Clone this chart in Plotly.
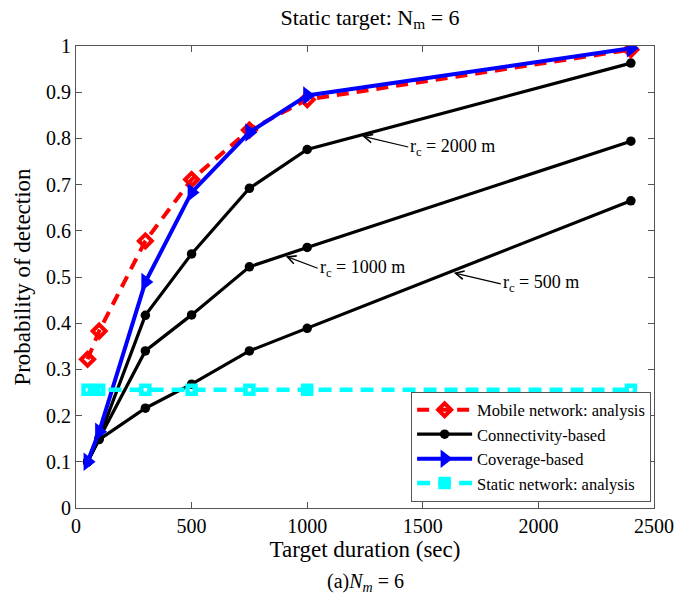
import plotly.graph_objects as go

# Target duration (sec)
duration = [50, 100, 300, 500, 750, 1000, 2400]

mobile_analysis = [0.322, 0.383, 0.578, 0.711, 0.818, 0.884, 0.992]
coverage_based = [0.100, 0.165, 0.489, 0.683, 0.813, 0.893, 0.995]
conn_rc2000 = [0.100, 0.152, 0.417, 0.550, 0.692, 0.776, 0.963]
conn_rc1000 = [0.100, 0.150, 0.340, 0.418, 0.522, 0.564, 0.794]
conn_rc500 = [0.100, 0.148, 0.216, 0.268, 0.340, 0.389, 0.665]
static_analysis = [0.256, 0.256, 0.256, 0.256, 0.256, 0.256, 0.256]

y_ticks = [0, 0.1, 0.2, 0.3, 0.4, 0.5, 0.6, 0.7, 0.8, 0.9, 1]
y_tick_labels = ["0", "0.1", "0.2", "0.3", "0.4", "0.5", "0.6", "0.7", "0.8", "0.9", "1"]
x_ticks = [0, 500, 1000, 1500, 2000, 2500]

rc_labels = ["r<sub>c</sub> = 2000 m", "r<sub>c</sub> = 1000 m", "r<sub>c</sub> = 500 m"]
rc_points_x = [1238, 907, 1634]
rc_points_y = [0.805, 0.545, 0.509]

FONT = "Liberation Serif, Times New Roman, serif"
AX = "#555555"

fig = go.Figure()

for i, ys in enumerate([conn_rc2000, conn_rc1000, conn_rc500]):
    fig.add_trace(go.Scatter(
        x=duration, y=ys, mode="lines+markers",
        name="Connectivity-based", legendrank=2, showlegend=(i == 0),
        line=dict(color="black", width=3.2),
        marker=dict(symbol="circle", size=9.5, color="black"),
    ))

fig.add_trace(go.Scatter(
    x=duration, y=mobile_analysis, mode="lines+markers",
    name="Mobile network: analysis", legendrank=1,
    line=dict(color="#ff0000", width=4, dash="12px,8px"),
    marker=dict(symbol="diamond-open", size=10, color="#ff0000",
                line=dict(width=4, color="#ff0000")),
))

fig.add_trace(go.Scatter(
    x=duration, y=coverage_based, mode="lines+markers",
    name="Coverage-based", legendrank=3,
    line=dict(color="#0000ff", width=4),
    marker=dict(symbol="triangle-right", size=16, color="#0000ff"),
))

fig.add_trace(go.Scatter(
    x=duration, y=static_analysis, mode="lines+markers",
    name="Static network: analysis", legendrank=4,
    line=dict(color="#00ffff", width=4.5, dash="13px,8px"),
    marker=dict(symbol="square-open", size=8, color="#00ffff",
                line=dict(width=4.5, color="#00ffff")),
))

annotations = []
offsets = [(46, 11), (32, 12), (47, 11)]
for lab, px, py, (ax, ay) in zip(rc_labels, rc_points_x, rc_points_y, offsets):
    annotations.append(dict(
        x=px, y=py, xref="x", yref="y", text=lab, showarrow=True,
        ax=ax, ay=ay, xanchor="left", yanchor="middle",
        arrowhead=5, arrowsize=1.5, arrowwidth=1.1, arrowcolor="black",
        standoff=0, font=dict(family=FONT, size=18, color="black"),
    ))

annotations.append(dict(
    x=0.5, y=-0.162, xref="paper", yref="paper",
    text="(a)<i>N</i><sub><i>m</i></sub> = 6", showarrow=False,
    xanchor="center", yanchor="middle",
    font=dict(family=FONT, size=20, color="black"),
))

fig.update_layout(
    width=686, height=604,
    margin=dict(l=76, r=22, t=46, b=96),
    paper_bgcolor="white", plot_bgcolor="white",
    font=dict(family=FONT, size=20, color="black"),
    title=dict(text="Static target: N<sub>m</sub> = 6", x=370 / 686, xref="container",
               xanchor="center", y=0.972, yanchor="middle",
               font=dict(family=FONT, size=22, color="black")),
    showlegend=True,
    legend=dict(
        x=0.995, y=0.014, xanchor="right", yanchor="bottom",
        bgcolor="white", bordercolor=AX, borderwidth=1,
        font=dict(family=FONT, size=16.5, color="black"),
        tracegroupgap=0, itemwidth=55,
    ),
    annotations=annotations,
)

fig.update_xaxes(
    range=[0, 2500], tickvals=x_ticks, ticks="inside", ticklen=6,
    tickcolor=AX, showline=True, linecolor=AX, linewidth=1.2, mirror="ticks",
    showgrid=False, zeroline=False,
    tickfont=dict(family=FONT, size=20, color="black"),
    title=dict(text="Target duration (sec)", standoff=4,
               font=dict(family=FONT, size=23, color="black")),
)
fig.update_yaxes(
    range=[0, 1], tickvals=y_ticks, ticktext=y_tick_labels, ticks="inside", ticklen=6,
    tickcolor=AX, showline=True, linecolor=AX, linewidth=1.2, mirror="ticks",
    showgrid=False, zeroline=False,
    tickfont=dict(family=FONT, size=20, color="black"),
    title=dict(text="Probability of detection", standoff=8,
               font=dict(family=FONT, size=23, color="black")),
)

fig.write_html("out.html")
